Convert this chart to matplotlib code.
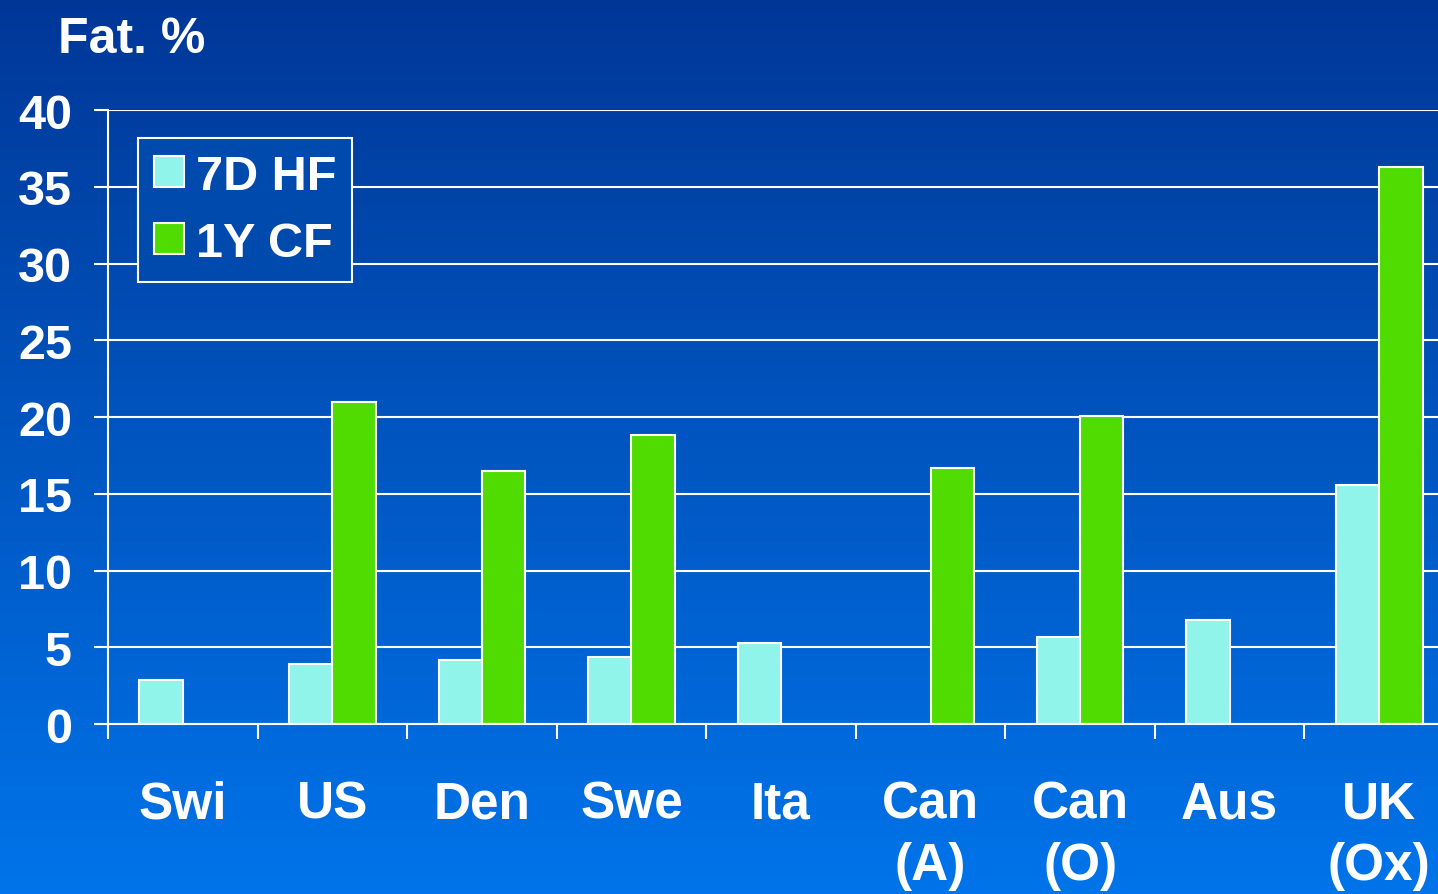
import matplotlib.pyplot as plt
import numpy as np
from matplotlib.colors import LinearSegmentedColormap
from matplotlib.patches import Patch

countries = ['Swi', 'US', 'Den', 'Swe', 'Ita', 'Can\n(A)', 'Can\n(O)', 'Aus', 'UK\n(Ox)']
hf_7d = [2.9, 3.9, 4.2, 4.4, 5.3, np.nan, 5.7, 6.8, 15.6]
cf_1y = [np.nan, 21.0, 16.5, 18.8, np.nan, 16.7, 20.1, np.nan, 36.3]
y_ticks = [0, 5, 10, 15, 20, 25, 30, 35, 40]

plt.rcParams['font.family'] = ['Liberation Sans', 'DejaVu Sans']
plt.rcParams['font.weight'] = 'bold'

fig = plt.figure(figsize=(14.38, 8.95), dpi=100)

# background gradient
bg = fig.add_axes([0, 0, 1, 1], zorder=-10)
grad = np.linspace(0, 1, 256).reshape(-1, 1)
cmap = LinearSegmentedColormap.from_list('bg', ['#003797', '#0074ea'])
bg.imshow(grad, aspect='auto', cmap=cmap, extent=[0, 1, 0, 1], origin='upper')
bg.axis('off')

ax = fig.add_axes([0.0751, 0.1899, 0.936, 0.686])
ax.patch.set_alpha(0)

x = np.arange(len(countries))
w = 0.29
hf = np.array(hf_7d)
cf = np.array(cf_1y)
m1 = ~np.isnan(hf)
m2 = ~np.isnan(cf)
ax.bar(x[m1] - w / 2, hf[m1], w, color='#90f4ea', edgecolor='white', linewidth=1.5, zorder=3)
ax.bar(x[m2] + w / 2, cf[m2], w, color='#50dc00', edgecolor='white', linewidth=1.5, zorder=3)

ax.set_xlim(-0.5, len(countries) - 0.5)
ax.set_ylim(0, 40)
ax.set_yticks(y_ticks)
ax.set_yticklabels([str(t) for t in y_ticks])
ax.yaxis.grid(True, color='white', linewidth=1.5, zorder=1)

ax.set_xticks(x)
ax.set_xticklabels(countries, linespacing=1.32)
ax.set_xticks(np.arange(len(countries)) - 0.5, minor=True)
ax.tick_params(axis='x', which='major', length=0, pad=40, labelsize=37, labelcolor='white')
ax.tick_params(axis='x', which='minor', length=11, width=1.5, color='white', direction='out')
ax.tick_params(axis='y', length=10, width=1.5, color='white', pad=16, labelsize=35, labelcolor='white')

for s in ['top', 'right']:
    ax.spines[s].set_visible(False)
for s in ['left', 'bottom']:
    ax.spines[s].set_color('white')
    ax.spines[s].set_linewidth(1.5)
    ax.spines[s].set_zorder(4)

handles = [Patch(facecolor='#90f4ea', edgecolor='white', linewidth=1.5, label='7D HF'),
           Patch(facecolor='#50dc00', edgecolor='white', linewidth=1.5, label='1Y CF')]
leg = ax.legend(handles=handles, loc='upper left', bbox_to_anchor=(0.022, 0.955),
                fontsize=35, frameon=True, fancybox=False, framealpha=1,
                facecolor='#0049ad', edgecolor='white', labelcolor='white',
                handlelength=0.62, handleheight=0.62, handletextpad=0.25,
                borderpad=0.33, labelspacing=0.45, borderaxespad=0)
leg.get_frame().set_linewidth(1.5)
leg.set_zorder(5)

fig.text(0.040, 0.955, 'Fat. %', color='white', fontsize=36, fontweight='bold', va='center', ha='left')

fig.savefig('out.png', dpi=100)
